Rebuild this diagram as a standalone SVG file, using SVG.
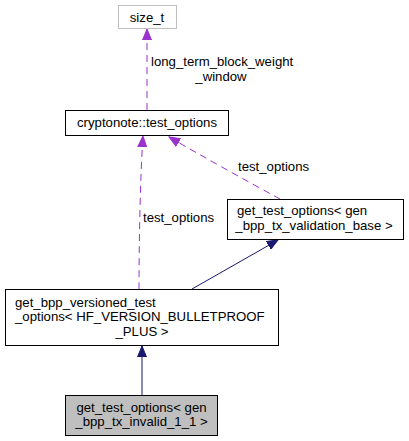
<svg xmlns="http://www.w3.org/2000/svg" width="409" height="441" viewBox="0 0 409 441">
<defs>
<style>
text{font-family:"Liberation Sans",Arial,sans-serif;font-size:13.2px;fill:#000}
.box{fill:#fff;stroke:#000;stroke-width:1}
.grey{fill:#fff;stroke:#bfbfbf;stroke-width:1}
.cur{fill:#bfbfbf;stroke:#000;stroke-width:1}
.dash{fill:none;stroke:#9a32cd;stroke-width:1;stroke-dasharray:7,5}
.solid{fill:none;stroke:#191970;stroke-width:1}
</style>
<marker id="ap" markerWidth="12" markerHeight="10" refX="11" refY="5" orient="auto" markerUnits="userSpaceOnUse"><path d="M0,0.5 L11,5 L0,9.5 Z" fill="#9a32cd" stroke="#9a32cd"/></marker>
<marker id="ab" markerWidth="12" markerHeight="10" refX="11" refY="5" orient="auto" markerUnits="userSpaceOnUse"><path d="M0,0.5 L11,5 L0,9.5 Z" fill="#191970" stroke="#191970"/></marker>
</defs>
<rect width="409" height="441" fill="#fff"/>
<g id="connectors">
<path class="dash" d="M147,110 L147,29" marker-end="url(#ap)"/>
<text x="151" y="66">long_term_block_weight</text>
<text x="221" y="81" text-anchor="middle">_window</text>
<path class="dash" d="M139,289 C139,250 140,180 143,136" marker-end="url(#ap)"/>
<text x="143" y="222">test_options</text>
<path class="dash" d="M280,199 C245,180 200,155 169,137" marker-end="url(#ap)"/>
<text x="238" y="171">test_options</text>
<path class="solid" d="M192,289 L278,240" marker-end="url(#ab)"/>
<path class="solid" d="M142,395 L142,346" marker-end="url(#ab)"/>
</g>
<g id="size_t">
<rect class="grey" x="118.5" y="5.5" width="58" height="23"/>
<text x="147" y="21.5" text-anchor="middle">size_t</text>
</g>
<g id="test_options">
<rect class="box" x="65.5" y="110.5" width="163" height="25"/>
<text x="147" y="126.5" text-anchor="middle">cryptonote::test_options</text>
</g>
<g id="validation_base">
<rect class="box" x="227.5" y="199.5" width="176" height="40"/>
<text x="237" y="215">get_test_options&lt; gen</text>
<text x="314" y="229.5" text-anchor="middle">_bpp_tx_validation_base &gt;</text>
</g>
<g id="bpp_versioned">
<rect class="box" x="5.5" y="289.5" width="273" height="56"/>
<text x="15" y="306.5">get_bpp_versioned_test</text>
<text x="15" y="321">_options&lt; HF_VERSION_BULLETPROOF</text>
<text x="142" y="335.5" text-anchor="middle">_PLUS &gt;</text>
</g>
<g id="invalid">
<rect class="cur" x="65.5" y="395.5" width="152" height="40"/>
<text x="141.5" y="411.5" text-anchor="middle">get_test_options&lt; gen</text>
<text x="141.5" y="426" text-anchor="middle">_bpp_tx_invalid_1_1 &gt;</text>
</g>
</svg>
